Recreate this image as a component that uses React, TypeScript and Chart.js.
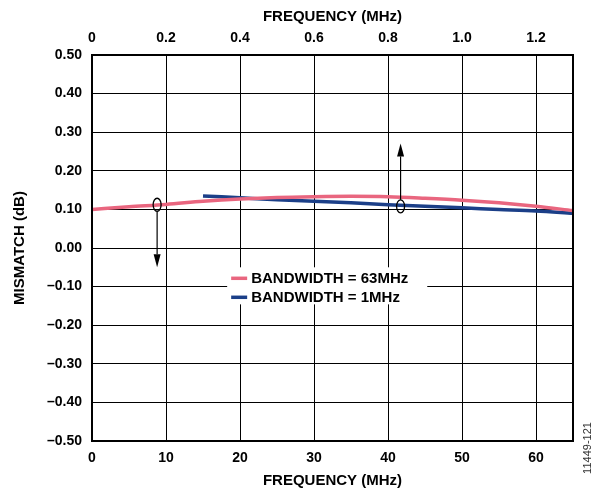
import React, { useEffect, useRef } from "react";
import { Chart, registerables } from "chart.js";

Chart.register(...registerables);

// Bottom axis: frequency (MHz) for the 63 MHz bandwidth curve
const bw63Freq = [0, 5, 10, 15, 20, 25, 30, 35, 40, 45, 50, 55, 60, 65];
const bw63Mismatch = [0.100, 0.107, 0.113, 0.121, 0.127, 0.131, 0.133, 0.134, 0.133, 0.129, 0.124, 0.117, 0.108, 0.097];

// Top axis: frequency (MHz) for the 1 MHz bandwidth curve
const bw1Freq = [0.30, 0.4, 0.5, 0.6, 0.7, 0.8, 0.9, 1.0, 1.1, 1.2, 1.3];
const bw1Mismatch = [0.135, 0.130, 0.125, 0.121, 0.117, 0.112, 0.108, 0.104, 0.100, 0.096, 0.090];

const seriesLabels = ["BANDWIDTH = 63MHz", "BANDWIDTH = 1MHz"];
const seriesColors = ["#E9667F", "#1B3F88"];

// Axis ranges
const bottomRange = [0, 65];
const topRange = [0, 1.3];
const yRange = [-0.5, 0.5];

// Annotation markers (ellipse + arrow pointing to the relevant axis)
const markerAxis = ["x", "x2"];
const markerX = [8.8, 0.834];
const markerY = [0.112, 0.108];
const arrowTipY = [-0.05, 0.271];

const FONT = "'Liberation Sans', Arial, Helvetica, sans-serif";

const overlayPlugin = {
  id: "overlay",
  beforeDatasetsDraw(chart: any) {
    const { ctx, chartArea: ca } = chart;
    const w = ca.right - ca.left;
    const h = ca.bottom - ca.top;
    const bx = ca.left + 0.281 * w;
    const bxr = ca.left + 0.697 * w;
    const by = ca.top + 0.55 * h;
    const byb = ca.top + 0.646 * h;
    ctx.save();
    ctx.fillStyle = "#ffffff";
    ctx.fillRect(bx, by, bxr - bx, byb - by);
    ctx.font = `bold 15px ${FONT}`;
    ctx.textBaseline = "middle";
    ctx.textAlign = "left";
    const rowY = [by + 11, by + 30];
    seriesLabels.forEach((lab, i) => {
      ctx.strokeStyle = seriesColors[i];
      ctx.lineWidth = 3.5;
      ctx.beginPath();
      ctx.moveTo(bx + 4, rowY[i]);
      ctx.lineTo(bx + 20, rowY[i]);
      ctx.stroke();
      ctx.fillStyle = "#000";
      ctx.fillText(lab, bx + 24, rowY[i] + 0.5);
    });
    ctx.restore();
  },
  afterDatasetsDraw(chart: any) {
    const { ctx, chartArea: ca, scales } = chart;
    ctx.save();
    // annotations
    for (let i = 0; i < markerX.length; i++) {
      const cx = scales[markerAxis[i]].getPixelForValue(markerX[i]);
      const cy = scales.y.getPixelForValue(markerY[i]);
      const tip = scales.y.getPixelForValue(arrowTipY[i]);
      const rx = 4, ry = 6.5;
      ctx.strokeStyle = "#000";
      ctx.lineWidth = 1.3;
      ctx.beginPath();
      ctx.ellipse(cx, cy, rx, ry, 0, 0, Math.PI * 2);
      ctx.stroke();
      const dir = tip > cy ? 1 : -1;
      const start = cy + dir * ry;
      const headLen = 13;
      ctx.lineWidth = 1.2;
      ctx.beginPath();
      ctx.moveTo(cx, start);
      ctx.lineTo(cx, tip - dir * headLen);
      ctx.stroke();
      ctx.fillStyle = "#000";
      ctx.beginPath();
      ctx.moveTo(cx, tip);
      ctx.lineTo(cx - 3.5, tip - dir * headLen);
      ctx.lineTo(cx + 3.5, tip - dir * headLen);
      ctx.closePath();
      ctx.fill();
    }
    // frame
    ctx.strokeStyle = "#000";
    ctx.lineWidth = 2;
    ctx.strokeRect(ca.left, ca.top, ca.right - ca.left, ca.bottom - ca.top);
    // figure id
    ctx.translate(chart.width - 6, 448);
    ctx.rotate(-Math.PI / 2);
    ctx.font = `11px ${FONT}`;
    ctx.fillStyle = "#333";
    ctx.textAlign = "center";
    ctx.textBaseline = "middle";
    ctx.fillText("11449-121", 0, 0);
    ctx.restore();
  },
};

export default function App() {
  const ref = useRef<HTMLCanvasElement>(null);
  useEffect(() => {
    document.body.style.margin = "0";
    const canvas = ref.current!;
    const tickFont = { family: FONT, size: 14, weight: "bold" as const };
    const titleFont = { family: FONT, size: 15, weight: "bold" as const };
    const chart = new Chart(canvas, {
      type: "line",
      data: {
        datasets: [
          {
            label: seriesLabels[0],
            data: bw63Freq.map((f, i) => ({ x: f, y: bw63Mismatch[i] })),
            xAxisID: "x",
            yAxisID: "y",
            borderColor: seriesColors[0],
            borderWidth: 3.5,
            pointRadius: 0,
            cubicInterpolationMode: "monotone",
          },
          {
            label: seriesLabels[1],
            data: bw1Freq.map((f, i) => ({ x: f, y: bw1Mismatch[i] })),
            xAxisID: "x2",
            yAxisID: "y",
            borderColor: seriesColors[1],
            borderWidth: 3.5,
            pointRadius: 0,
            cubicInterpolationMode: "monotone",
          },
        ],
      },
      options: {
        animation: false,
        responsive: false,
        layout: { padding: { left: 0, right: 21, top: 0, bottom: 0 } },
        plugins: { legend: { display: false }, tooltip: { enabled: false } },
        scales: {
          x: {
            type: "linear",
            position: "bottom",
            min: bottomRange[0],
            max: bottomRange[1],
            ticks: { stepSize: 10, includeBounds: false, font: tickFont, color: "#000", padding: 9, maxRotation: 0 },
            grid: { color: "#000", lineWidth: 1, drawTicks: false },
            border: { display: false },
            title: { display: true, text: "FREQUENCY (MHz)", font: titleFont, color: "#000", padding: { top: 0, bottom: 5 } },
            afterFit: (s: any) => { s.height = 54; },
          },
          x2: {
            type: "linear",
            position: "top",
            min: topRange[0],
            max: topRange[1],
            ticks: {
              stepSize: 0.2,
              includeBounds: false,
              font: tickFont,
              color: "#000",
              padding: 8,
              maxRotation: 0,
              callback: (v: any) => (Math.abs(v) < 1e-9 ? "0" : Number(v).toFixed(1)),
            },
            grid: { display: false, drawTicks: false },
            border: { display: false },
            title: { display: true, text: "FREQUENCY (MHz)", font: titleFont, color: "#000", padding: { top: 8, bottom: 0 } },
            afterFit: (s: any) => { s.height = 55; },
          },
          y: {
            type: "linear",
            position: "left",
            min: yRange[0],
            max: yRange[1],
            ticks: {
              stepSize: 0.1,
              includeBounds: false,
              font: tickFont,
              color: "#000",
              padding: 10,
              callback: (v: any) => {
                const n = Math.abs(v) < 1e-9 ? 0 : Number(v);
                return n.toFixed(2).replace("-", "\u2013");
              },
            },
            grid: { color: "#000", lineWidth: 1, drawTicks: false },
            border: { display: false },
            title: { display: true, text: "MISMATCH (dB)", font: titleFont, color: "#000", padding: { top: 11, bottom: 0 } },
            afterFit: (s: any) => { s.width = 92; },
          },
        },
      },
      plugins: [overlayPlugin],
    });
    return () => chart.destroy();
  }, []);
  return (
    <div style={{ width: 594, height: 495 }}>
      <canvas ref={ref} width={594} height={495} style={{ display: "block" }} />
    </div>
  );
}
